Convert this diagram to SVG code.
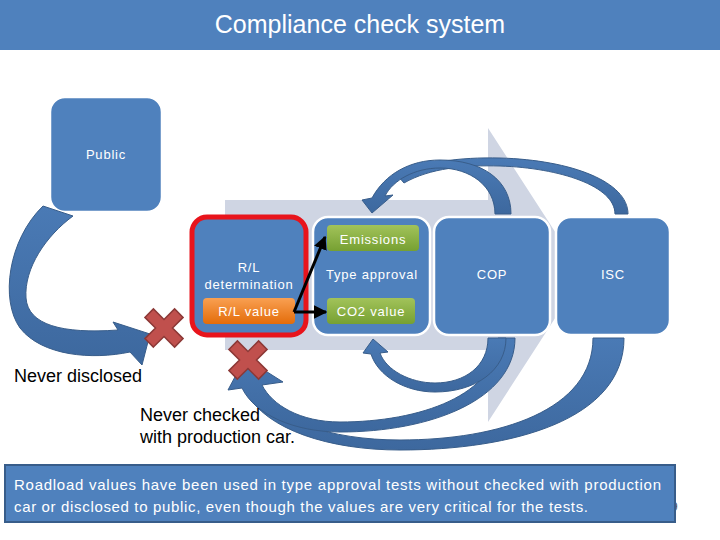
<svg xmlns="http://www.w3.org/2000/svg" width="720" height="540" viewBox="0 0 720 540">
<defs>
<style>
.node{fill:#4f81bd;stroke:#fff;stroke-width:2.5}
.lbl{font-family:"Liberation Sans",Arial,sans-serif;font-size:13px;fill:#fff;text-anchor:middle;letter-spacing:0.8px}
.blk{fill:url(#bg);stroke:#385d8a;stroke-width:1}
.note{font-family:"Liberation Sans",Arial,sans-serif;font-size:18px;fill:#000}
.xm{fill:#c0504d;stroke:#8c3836;stroke-width:1.5}
</style>
<linearGradient id="bg" x1="0" y1="0" x2="0" y2="1">
<stop offset="0" stop-color="#4a7ab5"/>
<stop offset="1" stop-color="#3d689e"/>
</linearGradient>
<linearGradient id="og" x1="0" y1="0" x2="0" y2="1">
<stop offset="0" stop-color="#f9a052"/>
<stop offset="1" stop-color="#e36c0a"/>
</linearGradient>
<linearGradient id="gg" x1="0" y1="0" x2="0" y2="1">
<stop offset="0" stop-color="#a2c35a"/>
<stop offset="1" stop-color="#76a032"/>
</linearGradient>
<marker id="ah" viewBox="0 0 10 10" refX="9" refY="5" markerWidth="4.5" markerHeight="4.5" orient="auto">
<path d="M0,0 L10,5 L0,10 z" fill="#000"/>
</marker>
<polygon id="cross" points="6,21 6,6 21,6 21,-6 6,-6 6,-21 -6,-21 -6,-6 -21,-6 -21,6 -6,6 -6,21"/>
</defs>

<rect x="0" y="0" width="720" height="50" fill="#4f81bd"/>
<text x="360" y="33" font-family="'Liberation Sans',Arial,sans-serif" font-size="25" fill="#fff" text-anchor="middle">Compliance check system</text>

<!-- background chevron -->
<polygon points="225,200 488,200 488,128 583,275 488,422 488,350 225,350" fill="#cfd5e3"/>

<g id="public">
<rect class="node" x="50" y="97" width="112" height="115" rx="15"/>
<text class="lbl" x="106" y="159">Public</text>
</g>

<g id="rl">
<rect x="192" y="217" width="114" height="118" rx="15" fill="#4f81bd" stroke="#e8141c" stroke-width="5"/>
<text class="lbl" x="249" y="272">R/L</text>
<text class="lbl" x="249" y="289">determination</text>
<rect x="203" y="298" width="92" height="26" rx="4" fill="url(#og)"/>
<text class="lbl" x="249" y="316">R/L value</text>
</g>

<g id="type-approval">
<rect class="node" x="313" y="217" width="117" height="118" rx="15"/>
<text class="lbl" x="372" y="279">Type approval</text>
<rect x="327" y="225" width="92" height="26" rx="4" fill="url(#gg)"/>
<text class="lbl" x="373" y="244">Emissions</text>
<rect x="327" y="298" width="88" height="26" rx="4" fill="url(#gg)"/>
<text class="lbl" x="371" y="316">CO2 value</text>
</g>

<g id="cop">
<rect class="node" x="434" y="217" width="116" height="118" rx="15"/>
<text class="lbl" x="492" y="279" letter-spacing="0">COP</text>
</g>

<g id="isc">
<rect class="node" x="556" y="217" width="114" height="118" rx="15"/>
<text class="lbl" x="613" y="279" letter-spacing="0">ISC</text>
</g>

<g id="connectors">
<!-- left curved arrow Public -> X -->
<path class="blk" d="M73,216 C46,236 24,268 26,298 C28,325 62,334 118,330 L113,322 L150,334 L142,365 L130,352 C92,360 42,356 20,328 C0,300 8,240 43,206 Z"/>
<!-- top arrows -->
<path class="blk" d="M628,214 C628,182 572,160 500,158 C460,157 420,162 398,176 L404,183 C430,168 465,165 500,166 C560,168 615,186 615,214 Z"/>
<path class="blk" d="M495,214 C495,186 470,168 440,168 C415,168 393,180 385,196 L393,195 L372,213 L362,200 L372,198 C385,174 410,160 440,160 C482,160 511,180 511,214 Z"/>
<!-- bottom arrows -->
<path class="blk" d="M593,338 C593,410 500,440 400,440 C330,440 272,420 254,388 L246,392 C266,430 330,450 400,450 C512,450 624,420 624,338 Z"/>
<path class="blk" d="M498,338 C498,395 420,422 340,422 C300,422 272,405 262,385 L283,382 L245,358 L228,390 L242,388 C255,415 295,432 340,432 C430,432 515,400 515,338 Z"/>
<path class="blk" d="M488,338 C488,366 465,383 435,383 C410,383 386,370 380,353 L388,352 L373,339 L363,353 L371,354 C378,376 405,392 435,392 C476,392 506,370 506,338 Z"/>
<!-- black arrows -->
<line x1="294" y1="312" x2="325" y2="237" stroke="#000" stroke-width="3" marker-end="url(#ah)"/>
<line x1="294" y1="312" x2="326" y2="312" stroke="#000" stroke-width="3" marker-end="url(#ah)"/>
</g>

<g id="x1"><use href="#cross" class="xm" transform="translate(164,328) rotate(45)"/></g>
<g id="x2"><use href="#cross" class="xm" transform="translate(248,360) rotate(45)"/></g>

<text class="note" x="14" y="382">Never disclosed</text>
<text class="note" x="140" y="421">Never checked</text>
<text class="note" x="140" y="443">with production car.</text>

<text x="671" y="511" font-family="'Liberation Sans',Arial,sans-serif" font-size="12" fill="#555">9</text>
<g id="note-box">
<rect x="5" y="465" width="670" height="57" fill="#4f81bd" stroke="#385d8a" stroke-width="2"/>
<text x="14" y="490" font-family="'Liberation Sans',Arial,sans-serif" font-size="15" fill="#fff" textLength="647">Roadload values have been used in type approval tests without checked with production</text>
<text x="14" y="512" font-family="'Liberation Sans',Arial,sans-serif" font-size="15" fill="#fff" textLength="574">car or disclosed to public, even though the values are very critical for the tests.</text>
</g>
</svg>
